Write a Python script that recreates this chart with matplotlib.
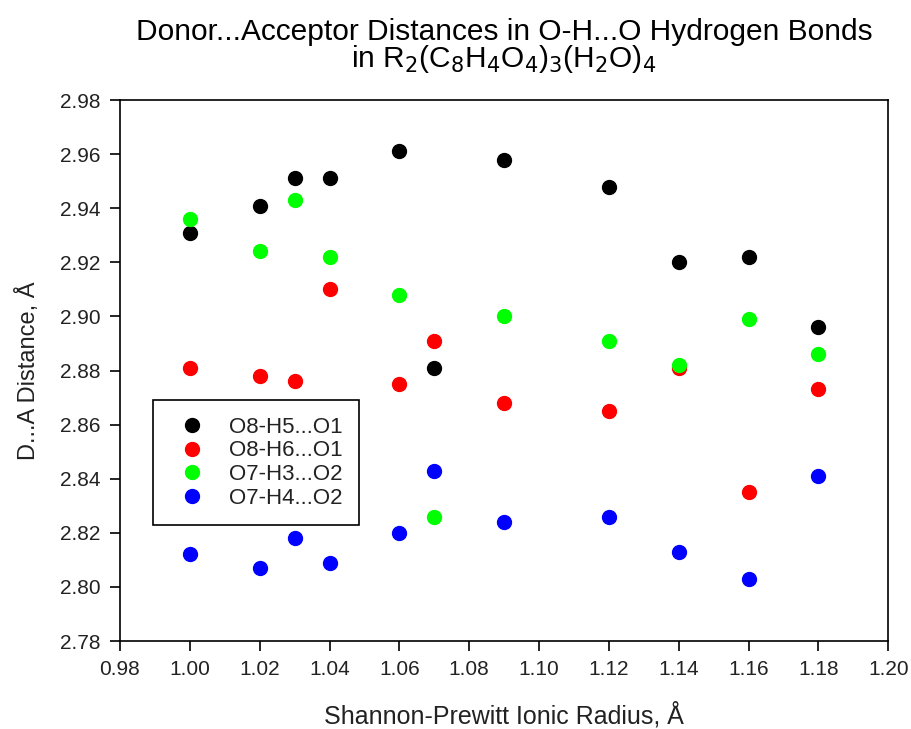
import numpy as np
import matplotlib.pyplot as plt

plt.rcParams['font.family'] = ['Liberation Sans', 'DejaVu Sans']

# Shannon-Prewitt ionic radius (A)
radius = [1.00, 1.02, 1.03, 1.04, 1.06, 1.07, 1.09, 1.12, 1.14, 1.16, 1.18]

# D...A distances (A)
o8_h5_o1 = [2.931, 2.941, 2.951, 2.951, 2.961, 2.881, 2.958, 2.948, 2.920, 2.922, 2.896]
o8_h6_o1 = [2.881, 2.878, 2.876, 2.910, 2.875, 2.891, 2.868, 2.865, 2.881, 2.835, 2.873]
o7_h3_o2 = [2.936, 2.924, 2.943, 2.922, 2.908, 2.826, 2.900, 2.891, 2.882, 2.899, 2.886]
o7_h4_o2 = [2.812, 2.807, 2.818, 2.809, 2.820, 2.843, 2.824, 2.826, 2.813, 2.803, 2.841]

labels = ["O8-H5...O1", "O8-H6...O1", "O7-H3...O2", "O7-H4...O2"]
colors = ['#000000', '#ff0000', '#00ff00', '#0000ff']

fig = plt.figure(figsize=(9.11, 7.29), dpi=100)
ax = fig.add_axes([0.1317, 0.1207, 0.8433, 0.7421])

for ys, lab, c in zip([o8_h5_o1, o8_h6_o1, o7_h3_o2, o7_h4_o2], labels, colors):
    ax.plot(radius, ys, linestyle='none', marker='o', markersize=10,
            color=c, label=lab)

ax.set_xlim(0.98, 1.20)
ax.set_ylim(2.78, 2.98)
ax.set_xticks(np.arange(0.98, 1.2001, 0.02))
ax.set_yticks(np.arange(2.78, 2.9801, 0.02))
ax.xaxis.set_major_formatter(plt.FormatStrFormatter('%.2f'))
ax.yaxis.set_major_formatter(plt.FormatStrFormatter('%.2f'))
ax.tick_params(direction='out', length=7, width=1.2, labelsize=15, pad=7,
               labelcolor='#222222')
for s in ax.spines.values():
    s.set_linewidth(1.2)

ax.set_xlabel("Shannon-Prewitt Ionic Radius, Å", fontsize=18, labelpad=16,
              color='#222222')
ax.set_ylabel("D...A Distance, Å", fontsize=17, labelpad=14, color='#222222')
ax.set_title("Donor...Acceptor Distances in O-H...O Hydrogen Bonds\n"
             r"in R$_2$(C$_8$H$_4$O$_4$)$_3$(H$_2$O)$_4$",
             fontsize=21.5, pad=24, linespacing=0.88)

leg = ax.legend(loc='upper left', bbox_to_anchor=(0.043, 0.4455), fontsize=16,
                frameon=True, fancybox=False, edgecolor='black', framealpha=1,
                handlelength=2.0, handletextpad=0.65, borderpad=0.75,
                labelspacing=0.12, borderaxespad=0)
leg.get_frame().set_linewidth(1.2)
for t in leg.get_texts():
    t.set_color('#222222')

fig.savefig("out.png", dpi=100)
